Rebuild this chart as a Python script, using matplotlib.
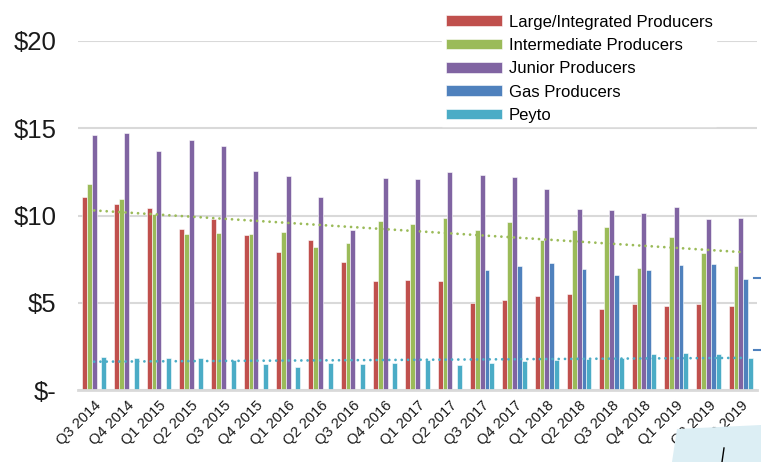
import numpy as np
import matplotlib
matplotlib.use("Agg")
import matplotlib.pyplot as plt
from matplotlib.patches import Polygon
from matplotlib.lines import Line2D

plt.rcParams['font.family'] = ['Liberation Sans', 'DejaVu Sans']

quarters = ["Q3 2014", "Q4 2014", "Q1 2015", "Q2 2015", "Q3 2015", "Q4 2015",
            "Q1 2016", "Q2 2016", "Q3 2016", "Q4 2016", "Q1 2017", "Q2 2017",
            "Q3 2017", "Q4 2017", "Q1 2018", "Q2 2018", "Q3 2018", "Q4 2018",
            "Q1 2019", "Q2 2019", "Q3 2019"]

large = [11.08, 10.66, 10.43, 9.25, 9.78, 8.88, 7.93, 8.60, 7.33, 6.25, 6.30,
         6.25, 5.00, 5.14, 5.37, 5.48, 4.64, 4.95, 4.81, 4.95, 4.81]
intermediate = [11.79, 10.95, 10.10, 8.92, 9.00, 8.94, 9.05, 8.21, 8.40, 9.70,
                9.53, 9.88, 9.17, 9.65, 8.58, 9.17, 9.34, 6.97, 8.75, 7.87, 7.09]
junior = [14.60, 14.71, 13.70, 14.35, 14.00, 12.57, 12.26, 11.08, 9.17, 12.15,
          12.09, 12.49, 12.32, 12.20, 11.54, 10.35, 10.30, 10.12, 10.47, 9.82, 9.88]
gas = [np.nan] * 12 + [6.86, 7.10, 7.26, 6.91, 6.61, 6.86, 7.14, 7.20, 6.36]
peyto = [1.91, 1.85, 1.85, 1.85, 1.72, 1.49, 1.32, 1.57, 1.49, 1.57, 1.72,
         1.43, 1.57, 1.68, 1.72, 1.76, 1.83, 2.04, 2.10, 2.04, 1.85]

series_names = ["Large/Integrated Producers", "Intermediate Producers",
                "Junior Producers", "Gas Producers", "Peyto"]
series = [large, intermediate, junior, gas, peyto]
colors = ["#C0504D", "#9BBB59", "#8064A2", "#4F81BD", "#4BACC6"]

y_ticks = [0, 5, 10, 15, 20]
y_labels = ["$-", "$5", "$10", "$15", "$20"]

fig = plt.figure(figsize=(7.61, 4.62), dpi=100)
ax = fig.add_axes([78 / 761, 1 - 390 / 462, (757 - 78) / 761, (390 - 41) / 462])

x = np.arange(len(quarters))
w = 0.15
for i, (vals, c, name) in enumerate(zip(series, colors, series_names)):
    ax.bar(x + (i - 2) * w, vals, width=w, color=c, edgecolor="white",
           linewidth=0.4, label=name, zorder=2)

# linear trend lines
for vals, c in [(intermediate, colors[1]), (peyto, colors[4])]:
    p = np.polyfit(x, vals, 1)
    ax.plot(x, np.polyval(p, x), color=c, lw=2.0,
            linestyle=(0, (0.01, 2.25)), dash_capstyle="round", zorder=3)

ax.set_xlim(-0.5, len(quarters) - 0.5)
ax.set_ylim(0, 20)
ax.set_yticks(y_ticks)
ax.set_yticklabels(y_labels, fontsize=18.5, color="#1a1a1a")
ax.tick_params(axis="y", length=0, pad=15.5)
ax.set_xticks(x)
ax.set_xticklabels(quarters, rotation=45, ha="right", rotation_mode="anchor",
                   fontsize=10.5, color="#1a1a1a")
ax.tick_params(axis="x", length=0, pad=6)
ax.grid(axis="y", color="#D9D9D9", lw=1.5, zorder=0)
ax.set_axisbelow(True)
for s in ["top", "right", "left"]:
    ax.spines[s].set_visible(False)
ax.spines["bottom"].set_color("#D9D9D9")
ax.spines["bottom"].set_linewidth(2)

leg = fig.legend(loc="upper left", bbox_to_anchor=(434 / 761, 1 - 3 / 462),
                 fontsize=12, handlelength=3.4, handleheight=0.6,
                 labelspacing=0.5, handletextpad=0.4, borderpad=0.2,
                 frameon=True, fancybox=False)
leg.get_frame().set_edgecolor("white")
leg.get_frame().set_facecolor("white")
leg.get_frame().set_alpha(1)

# cropped-screenshot artifacts at right edge and bottom right
for yy in [278, 350]:
    fig.add_artist(Line2D([754 / 761, 1], [1 - yy / 462] * 2, color="#4F81BD",
                          lw=1.5, transform=fig.transFigure))
poly = Polygon([(677 / 761, 1 - 429 / 462), (761 / 761, 1 - 425 / 462),
                (1, 0), (672 / 761, 0)], closed=True,
               transform=fig.transFigure, facecolor="#DCEEF4", edgecolor="none",
               zorder=10)
fig.add_artist(poly)
fig.add_artist(Line2D([724 / 761, 722 / 761], [1 - 448 / 462, 0], color="black",
                      lw=1.0, transform=fig.transFigure, zorder=11))

fig.savefig("out.png", dpi=100)
